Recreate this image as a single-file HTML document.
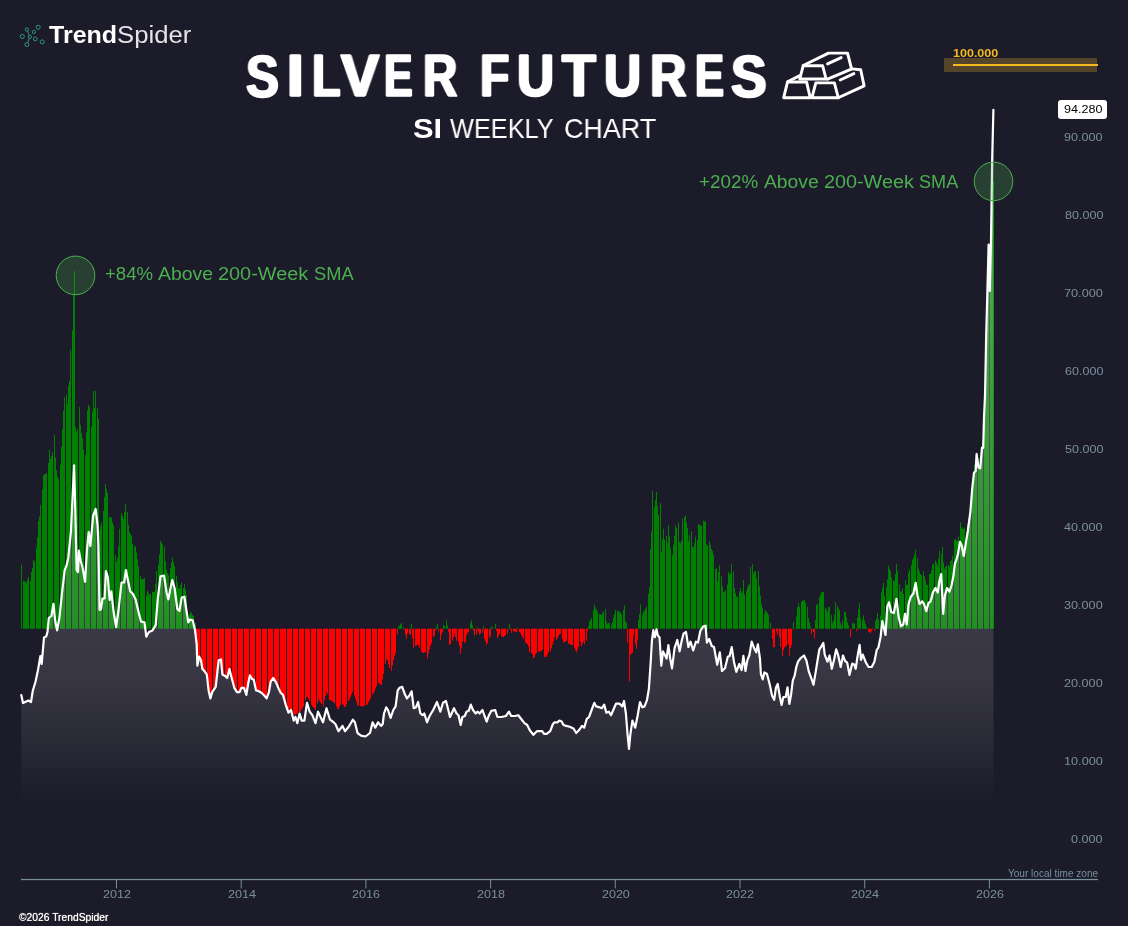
<!DOCTYPE html>
<html><head><meta charset="utf-8"><title>Silver Futures</title>
<style>
html,body{margin:0;padding:0;}
body{width:1128px;height:926px;background:#1c1b29;position:relative;overflow:hidden;font-family:"Liberation Sans",sans-serif;}
.chart{position:absolute;left:0;top:0;}
.logo{position:absolute;left:10px;top:15px;}
.ingot{position:absolute;left:770px;top:40px;}
.price{position:absolute;left:1058px;top:100px;width:49px;height:19px;background:#fff;border-radius:3px;color:#000;font-size:11.5px;line-height:19px;text-align:center;letter-spacing:0.3px;}
</style></head><body>
<svg class="chart" width="1128" height="926" viewBox="0 0 1128 926">
<defs>
<linearGradient id="ag" gradientUnits="userSpaceOnUse" x1="0" y1="109" x2="0" y2="810">
<stop offset="0.0000" stop-color="#fff" stop-opacity="0.38"/><stop offset="0.7404" stop-color="#fff" stop-opacity="0.132"/><stop offset="0.8146" stop-color="#fff" stop-opacity="0.118"/><stop offset="0.8716" stop-color="#fff" stop-opacity="0.085"/><stop offset="0.9287" stop-color="#fff" stop-opacity="0.045"/><stop offset="0.9786" stop-color="#fff" stop-opacity="0.008"/><stop offset="1.0000" stop-color="#fff" stop-opacity="0"/>
</linearGradient>
</defs>
<path d="M21 628.8V564.8h1V628.8zM23 628.8V580.8h1V628.8zM24 628.8V581.2h1V628.8zM25 628.8V581.8h1V628.8zM26 628.8V582.4h1V628.8zM27 628.8V579.8h1V628.8zM28 628.8V577.0h1V628.8zM30 628.8V581.3h1V628.8zM31 628.8V572.0h1V628.8zM32 628.8V568.0h1V628.8zM33 628.8V560.0h1V628.8zM34 628.8V561.8h1V628.8zM36 628.8V547.5h1V628.8zM37 628.8V536.9h1V628.8zM38 628.8V521.0h1V628.8zM39 628.8V516.6h1V628.8zM40 628.8V505.0h1V628.8zM42 628.8V489.1h1V628.8zM43 628.8V475.0h1V628.8zM44 628.8V474.6h1V628.8zM45 628.8V473.8h1V628.8zM46 628.8V473.0h1V628.8zM48 628.8V463.0h1V628.8zM49 628.8V449.4h1V628.8zM50 628.8V459.0h1V628.8zM51 628.8V456.2h1V628.8zM52 628.8V452.2h1V628.8zM54 628.8V435.0h1V628.8zM55 628.8V457.7h1V628.8zM56 628.8V469.9h1V628.8zM57 628.8V476.4h1V628.8zM58 628.8V479.1h1V628.8zM60 628.8V464.5h1V628.8zM61 628.8V446.9h1V628.8zM62 628.8V429.2h1V628.8zM63 628.8V410.8h1V628.8zM64 628.8V397.4h1V628.8zM66 628.8V394.4h1V628.8zM67 628.8V404.2h1V628.8zM68 628.8V386.0h1V628.8zM69 628.8V381.0h1V628.8zM70 628.8V350.0h1V628.8zM72 628.8V330.6h1V628.8zM73 628.8V295.0h1V628.8zM74 628.8V271.0h1V628.8zM75 628.8V427.0h1V628.8zM76 628.8V431.5h1V628.8zM77 628.8V429.3h1V628.8zM79 628.8V407.0h1V628.8zM80 628.8V424.8h1V628.8zM81 628.8V432.7h1V628.8zM82 628.8V438.0h1V628.8zM83 628.8V449.8h1V628.8zM85 628.8V455.3h1V628.8zM86 628.8V432.3h1V628.8zM87 628.8V410.5h1V628.8zM88 628.8V405.0h1V628.8zM89 628.8V406.7h1V628.8zM91 628.8V426.7h1V628.8zM92 628.8V411.6h1V628.8zM93 628.8V391.0h1V628.8zM94 628.8V408.0h1V628.8zM95 628.8V391.0h1V628.8zM97 628.8V408.0h1V628.8zM98 628.8V419.0h1V628.8zM99 628.8V530.2h1V628.8zM100 628.8V526.4h1V628.8zM101 628.8V522.5h1V628.8zM103 628.8V510.7h1V628.8zM104 628.8V497.3h1V628.8zM105 628.8V484.0h1V628.8zM106 628.8V489.0h1V628.8zM107 628.8V493.0h1V628.8zM109 628.8V516.8h1V628.8zM110 628.8V517.3h1V628.8zM111 628.8V517.6h1V628.8zM112 628.8V522.2h1V628.8zM113 628.8V525.0h1V628.8zM115 628.8V555.0h1V628.8zM116 628.8V561.7h1V628.8zM117 628.8V557.7h1V628.8zM118 628.8V546.0h1V628.8zM119 628.8V528.8h1V628.8zM121 628.8V513.0h1V628.8zM122 628.8V515.9h1V628.8zM123 628.8V518.7h1V628.8zM124 628.8V511.7h1V628.8zM125 628.8V503.5h1V628.8zM127 628.8V512.1h1V628.8zM128 628.8V524.7h1V628.8zM129 628.8V532.0h1V628.8zM130 628.8V534.3h1V628.8zM131 628.8V535.8h1V628.8zM132 628.8V543.7h1V628.8zM134 628.8V546.8h1V628.8zM135 628.8V546.0h1V628.8zM136 628.8V552.8h1V628.8zM137 628.8V559.5h1V628.8zM138 628.8V566.5h1V628.8zM140 628.8V576.0h1V628.8zM141 628.8V579.3h1V628.8zM142 628.8V579.5h1V628.8zM143 628.8V578.7h1V628.8zM144 628.8V578.0h1V628.8zM146 628.8V595.7h1V628.8zM147 628.8V590.5h1V628.8zM148 628.8V592.5h1V628.8zM149 628.8V594.4h1V628.8zM150 628.8V594.2h1V628.8zM152 628.8V592.0h1V628.8zM153 628.8V591.8h1V628.8zM154 628.8V591.4h1V628.8zM155 628.8V584.1h1V628.8zM156 628.8V570.7h1V628.8zM158 628.8V564.8h1V628.8zM159 628.8V554.2h1V628.8zM160 628.8V541.0h1V628.8zM161 628.8V542.7h1V628.8zM162 628.8V544.5h1V628.8zM164 628.8V546.6h1V628.8zM165 628.8V561.0h1V628.8zM166 628.8V570.0h1V628.8zM167 628.8V572.9h1V628.8zM168 628.8V575.2h1V628.8zM170 628.8V568.0h1V628.8zM171 628.8V562.5h1V628.8zM172 628.8V557.7h1V628.8zM173 628.8V562.3h1V628.8zM174 628.8V566.2h1V628.8zM176 628.8V576.0h1V628.8zM177 628.8V582.3h1V628.8zM178 628.8V588.1h1V628.8zM179 628.8V589.1h1V628.8zM180 628.8V585.2h1V628.8zM181 628.8V582.5h1V628.8zM183 628.8V588.0h1V628.8zM184 628.8V584.0h1V628.8zM185 628.8V589.5h1V628.8zM186 628.8V595.0h1V628.8zM187 628.8V611.6h1V628.8zM189 628.8V614.4h1V628.8zM190 628.8V611.8h1V628.8zM191 628.8V613.2h1V628.8zM192 628.8V614.8h1V628.8zM193 628.8V616.0h1V628.8zM195 628.8V623.0h1V628.8zM398 628.8V626.6h1V628.8zM399 628.8V625.8h1V628.8zM400 628.8V624.3h1V628.8zM401 628.8V623.0h1V628.8zM403 628.8V627.5h1V628.8zM411 628.8V624.0h1V628.8zM436 628.8V626.9h1V628.8zM437 628.8V624.0h1V628.8zM443 628.8V624.8h1V628.8zM444 628.8V626.3h1V628.8zM446 628.8V620.4h1V628.8zM447 628.8V625.2h1V628.8zM470 628.8V622.9h1V628.8zM471 628.8V619.9h1V628.8zM472 628.8V625.3h1V628.8zM477 628.8V627.5h1V628.8zM483 628.8V626.2h1V628.8zM491 628.8V626.6h1V628.8zM492 628.8V627.7h1V628.8zM495 628.8V624.0h1V628.8zM508 628.8V628.2h1V628.8zM509 628.8V624.0h1V628.8zM517 628.8V627.5h1V628.8zM588 628.8V626.2h1V628.8zM589 628.8V621.3h1V628.8zM590 628.8V620.0h1V628.8zM591 628.8V617.7h1V628.8zM593 628.8V610.3h1V628.8zM594 628.8V604.4h1V628.8zM595 628.8V607.5h1V628.8zM596 628.8V609.6h1V628.8zM597 628.8V611.5h1V628.8zM599 628.8V614.0h1V628.8zM600 628.8V614.5h1V628.8zM601 628.8V615.0h1V628.8zM602 628.8V613.0h1V628.8zM603 628.8V611.5h1V628.8zM605 628.8V608.9h1V628.8zM606 628.8V621.5h1V628.8zM607 628.8V623.7h1V628.8zM608 628.8V623.0h1V628.8zM609 628.8V623.0h1V628.8zM611 628.8V624.8h1V628.8zM612 628.8V622.0h1V628.8zM613 628.8V617.8h1V628.8zM614 628.8V613.4h1V628.8zM615 628.8V609.8h1V628.8zM617 628.8V610.5h1V628.8zM618 628.8V611.0h1V628.8zM619 628.8V611.7h1V628.8zM620 628.8V612.4h1V628.8zM621 628.8V614.4h1V628.8zM623 628.8V609.9h1V628.8zM624 628.8V605.3h1V628.8zM625 628.8V621.3h1V628.8zM626 628.8V623.0h1V628.8zM638 628.8V619.8h1V628.8zM639 628.8V614.0h1V628.8zM640 628.8V604.2h1V628.8zM642 628.8V614.8h1V628.8zM643 628.8V612.0h1V628.8zM644 628.8V610.5h1V628.8zM645 628.8V608.7h1V628.8zM646 628.8V606.5h1V628.8zM648 628.8V593.8h1V628.8zM649 628.8V587.3h1V628.8zM650 628.8V549.0h1V628.8zM651 628.8V531.4h1V628.8zM652 628.8V491.0h1V628.8zM654 628.8V506.8h1V628.8zM655 628.8V499.7h1V628.8zM656 628.8V492.0h1V628.8zM657 628.8V505.7h1V628.8zM658 628.8V515.1h1V628.8zM660 628.8V503.0h1V628.8zM661 628.8V551.4h1V628.8zM662 628.8V538.9h1V628.8zM663 628.8V528.8h1V628.8zM664 628.8V539.4h1V628.8zM666 628.8V535.9h1V628.8zM667 628.8V543.0h1V628.8zM668 628.8V525.2h1V628.8zM669 628.8V536.6h1V628.8zM670 628.8V548.6h1V628.8zM672 628.8V555.0h1V628.8zM673 628.8V544.7h1V628.8zM674 628.8V535.4h1V628.8zM675 628.8V525.2h1V628.8zM676 628.8V528.0h1V628.8zM678 628.8V522.6h1V628.8zM679 628.8V542.0h1V628.8zM680 628.8V542.9h1V628.8zM681 628.8V540.2h1V628.8zM682 628.8V519.0h1V628.8zM684 628.8V517.3h1V628.8zM685 628.8V515.5h1V628.8zM686 628.8V522.3h1V628.8zM687 628.8V527.9h1V628.8zM688 628.8V541.2h1V628.8zM689 628.8V535.0h1V628.8zM691 628.8V531.4h1V628.8zM692 628.8V546.5h1V628.8zM693 628.8V547.2h1V628.8zM694 628.8V543.2h1V628.8zM695 628.8V536.7h1V628.8zM697 628.8V540.1h1V628.8zM698 628.8V524.3h1V628.8zM699 628.8V524.3h1V628.8zM700 628.8V525.6h1V628.8zM701 628.8V526.0h1V628.8zM703 628.8V520.8h1V628.8zM704 628.8V521.2h1V628.8zM705 628.8V521.7h1V628.8zM706 628.8V544.4h1V628.8zM707 628.8V545.6h1V628.8zM709 628.8V541.2h1V628.8zM710 628.8V544.9h1V628.8zM711 628.8V548.9h1V628.8zM712 628.8V551.0h1V628.8zM713 628.8V554.5h1V628.8zM715 628.8V568.7h1V628.8zM716 628.8V568.7h1V628.8zM717 628.8V581.8h1V628.8zM718 628.8V571.9h1V628.8zM719 628.8V565.0h1V628.8zM721 628.8V576.6h1V628.8zM722 628.8V586.4h1V628.8zM723 628.8V592.4h1V628.8zM724 628.8V591.7h1V628.8zM725 628.8V590.0h1V628.8zM727 628.8V584.6h1V628.8zM728 628.8V572.2h1V628.8zM729 628.8V574.4h1V628.8zM730 628.8V573.5h1V628.8zM731 628.8V564.2h1V628.8zM733 628.8V571.3h1V628.8zM734 628.8V587.7h1V628.8zM735 628.8V593.0h1V628.8zM736 628.8V596.9h1V628.8zM737 628.8V596.4h1V628.8zM739 628.8V591.4h1V628.8zM740 628.8V588.0h1V628.8zM741 628.8V593.3h1V628.8zM742 628.8V591.3h1V628.8zM743 628.8V580.0h1V628.8zM744 628.8V594.7h1V628.8zM746 628.8V590.8h1V628.8zM747 628.8V587.5h1V628.8zM748 628.8V584.6h1V628.8zM749 628.8V584.6h1V628.8zM750 628.8V566.9h1V628.8zM752 628.8V564.2h1V628.8zM753 628.8V574.1h1V628.8zM754 628.8V571.3h1V628.8zM755 628.8V571.3h1V628.8zM756 628.8V578.0h1V628.8zM758 628.8V571.3h1V628.8zM759 628.8V586.4h1V628.8zM760 628.8V595.5h1V628.8zM761 628.8V603.7h1V628.8zM762 628.8V607.7h1V628.8zM764 628.8V613.8h1V628.8zM765 628.8V610.3h1V628.8zM766 628.8V611.6h1V628.8zM767 628.8V613.0h1V628.8zM768 628.8V615.1h1V628.8zM770 628.8V622.7h1V628.8zM778 628.8V628.0h1V628.8zM793 628.8V621.8h1V628.8zM795 628.8V628.0h1V628.8zM796 628.8V616.5h1V628.8zM797 628.8V607.3h1V628.8zM798 628.8V603.2h1V628.8zM799 628.8V607.0h1V628.8zM801 628.8V601.4h1V628.8zM802 628.8V600.8h1V628.8zM803 628.8V600.2h1V628.8zM804 628.8V599.6h1V628.8zM805 628.8V602.7h1V628.8zM807 628.8V606.7h1V628.8zM808 628.8V618.3h1V628.8zM809 628.8V622.4h1V628.8zM810 628.8V626.4h1V628.8zM815 628.8V620.0h1V628.8zM816 628.8V605.0h1V628.8zM817 628.8V603.5h1V628.8zM819 628.8V597.6h1V628.8zM820 628.8V594.7h1V628.8zM821 628.8V592.5h1V628.8zM822 628.8V592.0h1V628.8zM823 628.8V591.7h1V628.8zM825 628.8V607.6h1V628.8zM826 628.8V609.8h1V628.8zM827 628.8V611.7h1V628.8zM828 628.8V606.7h1V628.8zM829 628.8V606.7h1V628.8zM831 628.8V615.0h1V628.8zM832 628.8V622.9h1V628.8zM833 628.8V620.0h1V628.8zM834 628.8V614.8h1V628.8zM835 628.8V602.3h1V628.8zM837 628.8V605.9h1V628.8zM838 628.8V608.3h1V628.8zM839 628.8V610.3h1V628.8zM840 628.8V622.5h1V628.8zM841 628.8V625.5h1V628.8zM842 628.8V620.4h1V628.8zM844 628.8V611.8h1V628.8zM845 628.8V612.0h1V628.8zM846 628.8V617.5h1V628.8zM847 628.8V622.5h1V628.8zM848 628.8V625.4h1V628.8zM852 628.8V622.7h1V628.8zM853 628.8V623.4h1V628.8zM854 628.8V623.6h1V628.8zM857 628.8V617.4h1V628.8zM858 628.8V609.5h1V628.8zM859 628.8V603.2h1V628.8zM860 628.8V617.6h1V628.8zM862 628.8V619.7h1V628.8zM863 628.8V615.6h1V628.8zM864 628.8V620.6h1V628.8zM865 628.8V624.0h1V628.8zM866 628.8V627.0h1V628.8zM872 628.8V628.0h1V628.8zM875 628.8V621.0h1V628.8zM876 628.8V618.5h1V628.8zM877 628.8V613.0h1V628.8zM878 628.8V619.2h1V628.8zM880 628.8V615.6h1V628.8zM881 628.8V592.6h1V628.8zM882 628.8V587.7h1V628.8zM883 628.8V582.8h1V628.8zM884 628.8V596.0h1V628.8zM886 628.8V587.2h1V628.8zM887 628.8V579.5h1V628.8zM888 628.8V565.6h1V628.8zM889 628.8V568.9h1V628.8zM890 628.8V571.3h1V628.8zM891 628.8V577.4h1V628.8zM893 628.8V580.5h1V628.8zM894 628.8V580.9h1V628.8zM895 628.8V573.9h1V628.8zM896 628.8V563.8h1V628.8zM897 628.8V571.1h1V628.8zM899 628.8V584.6h1V628.8zM900 628.8V591.0h1V628.8zM901 628.8V591.8h1V628.8zM902 628.8V588.0h1V628.8zM903 628.8V594.1h1V628.8zM905 628.8V580.0h1V628.8zM906 628.8V584.9h1V628.8zM907 628.8V584.8h1V628.8zM908 628.8V573.0h1V628.8zM909 628.8V570.0h1V628.8zM911 628.8V565.0h1V628.8zM912 628.8V559.8h1V628.8zM913 628.8V557.7h1V628.8zM914 628.8V554.4h1V628.8zM915 628.8V549.8h1V628.8zM917 628.8V558.0h1V628.8zM918 628.8V568.6h1V628.8zM919 628.8V571.7h1V628.8zM920 628.8V574.0h1V628.8zM921 628.8V575.2h1V628.8zM923 628.8V571.3h1V628.8zM924 628.8V576.2h1V628.8zM925 628.8V580.2h1V628.8zM926 628.8V584.6h1V628.8zM927 628.8V585.1h1V628.8zM929 628.8V574.0h1V628.8zM930 628.8V574.0h1V628.8zM931 628.8V570.5h1V628.8zM932 628.8V564.8h1V628.8zM933 628.8V563.3h1V628.8zM935 628.8V560.6h1V628.8zM936 628.8V562.4h1V628.8zM937 628.8V565.4h1V628.8zM938 628.8V558.8h1V628.8zM939 628.8V550.7h1V628.8zM941 628.8V554.1h1V628.8zM942 628.8V547.0h1V628.8zM943 628.8V562.5h1V628.8zM944 628.8V568.8h1V628.8zM945 628.8V566.8h1V628.8zM946 628.8V565.4h1V628.8zM948 628.8V565.0h1V628.8zM949 628.8V566.4h1V628.8zM950 628.8V561.0h1V628.8zM951 628.8V559.7h1V628.8zM952 628.8V556.0h1V628.8zM954 628.8V539.7h1V628.8zM955 628.8V539.0h1V628.8zM956 628.8V540.5h1V628.8zM957 628.8V540.2h1V628.8zM958 628.8V536.6h1V628.8zM960 628.8V522.3h1V628.8zM961 628.8V527.3h1V628.8zM962 628.8V528.8h1V628.8zM963 628.8V528.7h1V628.8zM964 628.8V527.7h1V628.8zM966 628.8V531.8h1V628.8zM967 628.8V524.0h1V628.8zM968 628.8V518.1h1V628.8zM969 628.8V509.6h1V628.8zM970 628.8V501.1h1V628.8zM972 628.8V482.2h1V628.8zM973 628.8V473.0h1V628.8zM974 628.8V464.3h1V628.8zM975 628.8V457.6h1V628.8zM976 628.8V452.3h1V628.8zM978 628.8V458.5h1V628.8zM979 628.8V464.9h1V628.8zM980 628.8V465.2h1V628.8zM981 628.8V446.0h1V628.8zM982 628.8V440.3h1V628.8zM984 628.8V400.0h1V628.8zM985 628.8V350.0h1V628.8zM986 628.8V333.3h1V628.8zM987 628.8V300.0h1V628.8zM988 628.8V270.0h1V628.8zM990 628.8V236.0h1V628.8zM991 628.8V227.3h1V628.8zM992 628.8V206.6h1V628.8zM993 628.8V181.3h1V628.8z" fill="#008000"/>
<path d="M196 628.8V642.1h1V628.8zM197 628.8V663.6h1V628.8zM198 628.8V660.7h1V628.8zM199 628.8V656.8h1V628.8zM201 628.8V665.4h1V628.8zM202 628.8V668.6h1V628.8zM203 628.8V669.9h1V628.8zM204 628.8V671.2h1V628.8zM205 628.8V672.0h1V628.8zM207 628.8V683.7h1V628.8zM208 628.8V689.0h1V628.8zM209 628.8V694.8h1V628.8zM210 628.8V697.5h1V628.8zM211 628.8V694.1h1V628.8zM213 628.8V690.0h1V628.8zM214 628.8V688.2h1V628.8zM215 628.8V687.3h1V628.8zM216 628.8V681.1h1V628.8zM217 628.8V670.4h1V628.8zM219 628.8V659.6h1V628.8zM220 628.8V659.1h1V628.8zM221 628.8V666.4h1V628.8zM222 628.8V674.3h1V628.8zM223 628.8V674.6h1V628.8zM225 628.8V676.1h1V628.8zM226 628.8V676.8h1V628.8zM227 628.8V677.4h1V628.8zM228 628.8V673.0h1V628.8zM229 628.8V668.9h1V628.8zM230 628.8V673.6h1V628.8zM232 628.8V680.5h1V628.8zM233 628.8V685.0h1V628.8zM234 628.8V688.3h1V628.8zM235 628.8V689.3h1V628.8zM236 628.8V691.2h1V628.8zM238 628.8V691.7h1V628.8zM239 628.8V691.7h1V628.8zM240 628.8V690.0h1V628.8zM241 628.8V687.3h1V628.8zM242 628.8V687.3h1V628.8zM244 628.8V688.8h1V628.8zM245 628.8V692.3h1V628.8zM246 628.8V694.1h1V628.8zM247 628.8V687.3h1V628.8zM248 628.8V683.4h1V628.8zM250 628.8V675.9h1V628.8zM251 628.8V677.9h1V628.8zM252 628.8V678.8h1V628.8zM253 628.8V679.2h1V628.8zM254 628.8V683.6h1V628.8zM256 628.8V690.0h1V628.8zM257 628.8V690.4h1V628.8zM258 628.8V690.8h1V628.8zM259 628.8V691.1h1V628.8zM260 628.8V691.8h1V628.8zM262 628.8V693.2h1V628.8zM263 628.8V694.4h1V628.8zM264 628.8V695.7h1V628.8zM265 628.8V696.5h1V628.8zM266 628.8V697.6h1V628.8zM268 628.8V692.8h1V628.8zM269 628.8V690.5h1V628.8zM270 628.8V683.5h1V628.8zM271 628.8V680.0h1V628.8zM272 628.8V679.2h1V628.8zM274 628.8V679.5h1V628.8zM275 628.8V681.4h1V628.8zM276 628.8V684.0h1V628.8zM277 628.8V685.4h1V628.8zM278 628.8V688.2h1V628.8zM280 628.8V691.9h1V628.8zM281 628.8V693.3h1V628.8zM282 628.8V694.3h1V628.8zM283 628.8V696.2h1V628.8zM284 628.8V700.5h1V628.8zM285 628.8V704.7h1V628.8zM287 628.8V710.0h1V628.8zM288 628.8V711.8h1V628.8zM289 628.8V708.3h1V628.8zM290 628.8V709.6h1V628.8zM291 628.8V710.9h1V628.8zM293 628.8V713.5h1V628.8zM294 628.8V715.0h1V628.8zM295 628.8V714.5h1V628.8zM296 628.8V713.8h1V628.8zM297 628.8V713.2h1V628.8zM299 628.8V712.0h1V628.8zM300 628.8V711.7h1V628.8zM301 628.8V709.4h1V628.8zM302 628.8V707.9h1V628.8zM303 628.8V706.4h1V628.8zM305 628.8V700.3h1V628.8zM306 628.8V697.2h1V628.8zM307 628.8V696.7h1V628.8zM308 628.8V698.7h1V628.8zM309 628.8V700.7h1V628.8zM311 628.8V704.8h1V628.8zM312 628.8V706.6h1V628.8zM313 628.8V707.6h1V628.8zM314 628.8V708.6h1V628.8zM315 628.8V710.0h1V628.8zM317 628.8V703.4h1V628.8zM318 628.8V699.3h1V628.8zM319 628.8V700.9h1V628.8zM320 628.8V702.5h1V628.8zM321 628.8V704.0h1V628.8zM323 628.8V706.4h1V628.8zM324 628.8V700.2h1V628.8zM325 628.8V696.1h1V628.8zM326 628.8V692.0h1V628.8zM327 628.8V694.3h1V628.8zM329 628.8V700.0h1V628.8zM330 628.8V700.3h1V628.8zM331 628.8V700.8h1V628.8zM332 628.8V701.4h1V628.8zM333 628.8V702.0h1V628.8zM334 628.8V703.4h1V628.8zM336 628.8V706.6h1V628.8zM337 628.8V709.0h1V628.8zM338 628.8V709.0h1V628.8zM339 628.8V706.4h1V628.8zM340 628.8V704.7h1V628.8zM342 628.8V703.9h1V628.8zM343 628.8V705.1h1V628.8zM344 628.8V707.0h1V628.8zM345 628.8V707.0h1V628.8zM346 628.8V704.5h1V628.8zM348 628.8V701.1h1V628.8zM349 628.8V699.5h1V628.8zM350 628.8V696.9h1V628.8zM351 628.8V694.3h1V628.8zM352 628.8V691.7h1V628.8zM354 628.8V695.4h1V628.8zM355 628.8V698.8h1V628.8zM356 628.8V702.1h1V628.8zM357 628.8V705.5h1V628.8zM358 628.8V705.7h1V628.8zM360 628.8V706.0h1V628.8zM361 628.8V706.2h1V628.8zM362 628.8V706.4h1V628.8zM363 628.8V706.2h1V628.8zM364 628.8V705.7h1V628.8zM366 628.8V704.9h1V628.8zM367 628.8V704.6h1V628.8zM368 628.8V702.2h1V628.8zM369 628.8V700.3h1V628.8zM370 628.8V698.3h1V628.8zM372 628.8V694.7h1V628.8zM373 628.8V692.9h1V628.8zM374 628.8V691.3h1V628.8zM375 628.8V688.6h1V628.8zM376 628.8V686.1h1V628.8zM378 628.8V682.8h1V628.8zM379 628.8V683.5h1V628.8zM380 628.8V684.3h1V628.8zM381 628.8V685.0h1V628.8zM382 628.8V679.4h1V628.8zM383 628.8V673.8h1V628.8zM385 628.8V663.8h1V628.8zM386 628.8V659.0h1V628.8zM387 628.8V660.2h1V628.8zM388 628.8V664.0h1V628.8zM389 628.8V668.0h1V628.8zM391 628.8V671.0h1V628.8zM392 628.8V665.6h1V628.8zM393 628.8V660.1h1V628.8zM394 628.8V656.2h1V628.8zM395 628.8V653.0h1V628.8zM397 628.8V634.6h1V628.8zM404 628.8V630.0h1V628.8zM405 628.8V634.5h1V628.8zM406 628.8V639.0h1V628.8zM407 628.8V633.2h1V628.8zM409 628.8V634.6h1V628.8zM410 628.8V634.6h1V628.8zM412 628.8V638.6h1V628.8zM413 628.8V647.9h1V628.8zM415 628.8V646.0h1V628.8zM416 628.8V645.3h1V628.8zM417 628.8V644.6h1V628.8zM418 628.8V645.6h1V628.8zM419 628.8V648.1h1V628.8zM421 628.8V651.8h1V628.8zM422 628.8V652.4h1V628.8zM423 628.8V653.0h1V628.8zM424 628.8V652.0h1V628.8zM425 628.8V652.4h1V628.8zM427 628.8V658.5h1V628.8zM428 628.8V653.4h1V628.8zM429 628.8V649.2h1V628.8zM430 628.8V646.1h1V628.8zM431 628.8V643.2h1V628.8zM433 628.8V637.1h1V628.8zM434 628.8V635.5h1V628.8zM435 628.8V630.4h1V628.8zM438 628.8V631.0h1V628.8zM440 628.8V640.0h1V628.8zM441 628.8V634.4h1V628.8zM442 628.8V632.0h1V628.8zM448 628.8V631.7h1V628.8zM449 628.8V645.0h1V628.8zM450 628.8V643.9h1V628.8zM452 628.8V640.4h1V628.8zM453 628.8V637.2h1V628.8zM454 628.8V633.7h1V628.8zM455 628.8V637.1h1V628.8zM456 628.8V640.8h1V628.8zM458 628.8V641.7h1V628.8zM459 628.8V645.8h1V628.8zM460 628.8V654.0h1V628.8zM461 628.8V648.2h1V628.8zM462 628.8V641.7h1V628.8zM464 628.8V642.6h1V628.8zM465 628.8V642.6h1V628.8zM466 628.8V635.6h1V628.8zM467 628.8V633.1h1V628.8zM468 628.8V632.2h1V628.8zM473 628.8V630.9h1V628.8zM474 628.8V635.5h1V628.8zM476 628.8V634.6h1V628.8zM478 628.8V631.4h1V628.8zM479 628.8V634.6h1V628.8zM480 628.8V633.8h1V628.8zM482 628.8V632.8h1V628.8zM484 628.8V639.0h1V628.8zM485 628.8V641.1h1V628.8zM486 628.8V645.0h1V628.8zM487 628.8V643.0h1V628.8zM489 628.8V637.8h1V628.8zM490 628.8V636.3h1V628.8zM493 628.8V629.0h1V628.8zM496 628.8V631.0h1V628.8zM497 628.8V638.0h1V628.8zM498 628.8V635.9h1V628.8zM499 628.8V634.1h1V628.8zM501 628.8V636.3h1V628.8zM502 628.8V636.8h1V628.8zM503 628.8V637.2h1V628.8zM504 628.8V636.0h1V628.8zM505 628.8V635.5h1V628.8zM507 628.8V633.7h1V628.8zM510 628.8V629.4h1V628.8zM511 628.8V632.8h1V628.8zM513 628.8V631.3h1V628.8zM514 628.8V631.3h1V628.8zM515 628.8V631.7h1V628.8zM516 628.8V632.0h1V628.8zM519 628.8V632.0h1V628.8zM520 628.8V633.0h1V628.8zM521 628.8V635.5h1V628.8zM522 628.8V636.9h1V628.8zM523 628.8V639.0h1V628.8zM525 628.8V642.6h1V628.8zM526 628.8V643.2h1V628.8zM527 628.8V644.3h1V628.8zM528 628.8V646.5h1V628.8zM529 628.8V652.3h1V628.8zM531 628.8V653.0h1V628.8zM532 628.8V654.4h1V628.8zM533 628.8V658.5h1V628.8zM534 628.8V656.9h1V628.8zM535 628.8V654.3h1V628.8zM536 628.8V653.0h1V628.8zM538 628.8V651.4h1V628.8zM539 628.8V651.4h1V628.8zM540 628.8V651.4h1V628.8zM541 628.8V650.6h1V628.8zM542 628.8V649.8h1V628.8zM544 628.8V656.7h1V628.8zM545 628.8V656.7h1V628.8zM546 628.8V656.7h1V628.8zM547 628.8V654.6h1V628.8zM548 628.8V652.3h1V628.8zM550 628.8V651.4h1V628.8zM551 628.8V648.3h1V628.8zM552 628.8V644.8h1V628.8zM553 628.8V641.2h1V628.8zM554 628.8V637.6h1V628.8zM556 628.8V640.0h1V628.8zM557 628.8V638.3h1V628.8zM558 628.8V635.8h1V628.8zM559 628.8V634.6h1V628.8zM560 628.8V633.9h1V628.8zM562 628.8V639.2h1V628.8zM563 628.8V642.6h1V628.8zM564 628.8V641.9h1V628.8zM565 628.8V641.3h1V628.8zM566 628.8V641.2h1V628.8zM568 628.8V643.6h1V628.8zM569 628.8V644.1h1V628.8zM570 628.8V644.5h1V628.8zM571 628.8V645.0h1V628.8zM572 628.8V645.0h1V628.8zM574 628.8V647.7h1V628.8zM575 628.8V650.4h1V628.8zM576 628.8V652.3h1V628.8zM577 628.8V649.3h1V628.8zM578 628.8V647.0h1V628.8zM580 628.8V641.7h1V628.8zM581 628.8V646.0h1V628.8zM582 628.8V643.7h1V628.8zM583 628.8V641.5h1V628.8zM584 628.8V644.3h1V628.8zM586 628.8V640.8h1V628.8zM587 628.8V631.0h1V628.8zM627 628.8V642.6h1V628.8zM629 628.8V681.6h1V628.8zM630 628.8V655.0h1V628.8zM631 628.8V653.6h1V628.8zM632 628.8V653.0h1V628.8zM633 628.8V635.5h1V628.8zM635 628.8V644.6h1V628.8zM636 628.8V648.8h1V628.8zM637 628.8V640.6h1V628.8zM772 628.8V639.1h1V628.8zM773 628.8V647.5h1V628.8zM774 628.8V646.9h1V628.8zM776 628.8V631.6h1V628.8zM777 628.8V635.0h1V628.8zM779 628.8V637.3h1V628.8zM780 628.8V647.1h1V628.8zM782 628.8V656.4h1V628.8zM783 628.8V650.0h1V628.8zM784 628.8V647.5h1V628.8zM785 628.8V646.3h1V628.8zM786 628.8V645.7h1V628.8zM788 628.8V643.7h1V628.8zM789 628.8V655.5h1V628.8zM790 628.8V648.0h1V628.8zM791 628.8V644.9h1V628.8zM792 628.8V629.8h1V628.8zM811 628.8V634.2h1V628.8zM813 628.8V632.0h1V628.8zM814 628.8V638.7h1V628.8zM850 628.8V636.9h1V628.8zM856 628.8V630.7h1V628.8zM868 628.8V631.6h1V628.8zM869 628.8V632.3h1V628.8zM870 628.8V633.3h1V628.8zM871 628.8V631.2h1V628.8zM874 628.8V630.7h1V628.8z" fill="#ff0000"/>
<path d="M21.3,695.0 L21.3,695.0 23.0,703.0 28.4,700.5 31.0,702.0 32.8,690.7 35.5,681.8 38.1,669.4 40.4,656.0 41.7,664.0 44.0,637.5 46.1,636.6 47.5,632.0 48.8,618.0 51.4,616.0 53.5,603.8 55.0,619.8 57.1,630.4 59.4,618.0 62.0,593.0 64.7,570.0 66.5,565.7 68.3,557.7 70.9,532.0 72.5,498.0 74.1,465.4 75.4,514.0 76.2,549.6 76.6,570.0 78.0,572.0 78.9,550.6 80.7,561.0 82.4,566.6 85.1,581.7 86.9,550.6 88.7,532.0 90.4,546.0 93.1,516.0 95.7,509.0 97.5,524.8 98.4,545.0 98.9,575.5 99.6,610.0 101.0,609.0 102.5,598.5 104.6,598.5 105.9,571.0 107.8,577.0 109.6,600.0 111.3,591.4 113.5,611.0 116.1,627.0 118.4,611.0 121.5,582.5 124.1,582.5 125.9,570.0 128.0,580.8 130.3,591.4 133.0,594.0 135.6,599.4 138.3,611.0 141.0,621.6 144.5,622.4 146.3,636.6 148.9,632.0 152.5,630.4 155.7,625.0 157.8,598.5 160.5,576.3 164.0,575.5 166.7,593.0 168.4,599.4 170.2,589.6 172.3,580.0 174.6,588.0 177.3,609.0 179.4,611.0 181.7,597.6 184.4,596.7 186.2,609.0 188.3,622.4 190.0,619.5 192.7,620.4 195.0,630.0 196.7,644.3 197.4,665.6 199.2,656.7 201.0,660.3 202.4,669.0 205.0,671.8 206.8,674.5 208.6,690.4 210.4,698.4 212.2,692.2 215.7,686.9 217.5,670.9 218.7,660.3 221.0,659.4 222.4,674.5 225.5,676.2 227.2,678.0 229.4,669.0 231.7,678.0 234.3,687.8 237.0,692.2 239.6,692.2 241.4,687.8 244.0,687.8 246.4,694.9 248.2,683.3 249.9,675.4 252.0,678.9 253.8,679.8 256.0,690.4 259.0,691.3 261.8,693.0 264.5,695.7 266.6,698.4 268.9,692.2 270.7,681.6 273.3,678.0 276.0,682.4 278.7,688.7 280.8,693.0 283.0,694.9 285.7,704.6 288.4,712.6 291.0,710.0 293.7,720.6 295.5,717.0 297.3,723.2 299.6,713.5 301.7,720.6 304.4,720.6 307.0,702.8 309.7,711.7 312.3,715.2 315.5,723.2 318.0,711.7 323.0,722.3 326.5,708.2 330.0,719.7 332.7,721.5 335.4,724.0 338.6,731.2 342.5,725.9 345.0,731.2 348.7,726.8 352.8,719.7 354.9,722.3 357.5,733.0 361.0,735.6 365.5,736.5 370.0,733.0 372.6,722.3 375.3,727.7 378.0,722.3 381.0,725.9 382.7,724.0 384.0,713.5 386.2,707.3 388.0,710.0 390.6,717.9 393.3,710.0 395.6,706.4 397.7,690.4 399.5,687.8 402.2,686.9 404.8,694.0 407.0,698.4 409.3,695.7 411.6,691.3 413.7,708.2 416.0,707.3 418.1,702.0 420.4,713.5 422.6,715.2 424.3,713.5 427.0,722.3 429.6,716.0 433.2,710.0 437.0,702.0 440.3,711.7 443.0,702.8 446.0,701.0 448.3,710.0 450.0,717.0 454.0,708.2 456.6,713.5 458.5,715.2 460.7,725.0 462.4,717.0 464.8,716.0 466.5,711.7 468.7,710.8 470.8,704.6 473.0,710.0 475.7,713.5 477.5,711.7 479.6,713.5 482.5,710.0 484.6,716.0 486.7,721.5 489.0,715.2 491.3,710.8 495.2,710.0 497.4,717.0 501.5,717.0 505.9,716.0 509.0,711.7 511.2,716.0 514.8,716.0 518.3,715.2 521.8,719.7 524.5,723.2 527.2,725.0 529.8,730.3 533.4,734.8 536.9,731.2 542.2,731.2 544.0,733.9 546.7,733.9 550.2,731.2 552.9,724.0 554.6,722.3 557.3,722.3 559.4,720.6 561.7,721.5 563.5,725.0 566.2,725.9 569.7,726.8 573.5,728.5 576.2,733.0 578.9,730.3 582.0,725.9 584.2,727.7 586.8,718.8 589.0,717.0 591.6,710.0 594.3,702.8 596.2,706.4 599.3,707.3 601.9,708.2 604.2,704.6 606.3,712.6 609.0,711.7 611.0,715.2 614.0,708.2 616.0,703.7 619.6,703.7 622.3,706.4 624.0,701.0 625.9,713.5 627.6,734.8 629.0,748.9 630.3,734.8 632.4,720.6 635.2,727.7 637.7,715.2 640.0,702.0 642.3,707.3 644.5,706.4 647.0,700.0 648.9,688.7 650.7,662.0 651.9,640.8 653.3,630.0 654.8,637.2 656.5,629.3 657.8,635.5 659.5,637.2 661.3,665.6 663.0,651.4 664.9,655.0 666.6,658.5 668.4,645.2 670.2,658.5 672.0,668.3 674.6,647.9 677.3,640.0 679.6,651.4 681.7,640.8 683.5,633.7 686.0,632.0 688.4,647.0 690.6,641.7 693.2,650.5 695.9,641.7 698.0,642.6 700.3,631.0 703.0,626.6 705.6,625.7 706.9,642.6 709.2,639.0 711.8,646.0 714.0,647.0 717.2,664.7 719.8,652.3 722.0,671.0 725.0,668.3 727.8,656.7 729.6,655.9 731.7,647.0 734.0,662.0 736.3,671.8 739.3,663.8 741.6,670.0 743.4,655.9 745.5,671.0 747.3,660.3 749.4,655.0 751.7,641.7 754.4,648.8 756.2,652.3 757.9,644.3 760.0,659.0 760.9,674.0 762.7,679.4 764.4,672.3 767.0,674.0 769.8,684.8 772.0,695.4 774.2,699.8 776.0,687.4 777.7,683.9 779.9,697.0 781.6,705.0 783.4,697.0 785.7,697.0 787.5,687.4 789.3,704.0 791.0,695.4 792.8,680.3 794.6,675.9 796.3,667.0 798.0,661.7 800.8,658.0 804.0,655.5 806.5,660.8 808.8,671.5 811.4,678.5 813.5,684.8 815.9,670.6 817.6,660.0 819.4,649.3 821.2,646.6 823.3,643.0 824.7,654.6 827.4,661.7 829.5,655.5 831.8,668.8 834.0,660.0 836.2,649.3 838.0,654.6 840.7,667.0 843.0,655.5 845.0,660.8 847.2,662.6 849.5,675.0 852.2,663.5 854.3,664.4 855.7,668.8 857.5,656.4 859.6,644.9 861.0,660.0 862.8,654.6 865.5,661.7 868.5,667.0 871.7,667.0 874.4,661.7 876.7,650.0 878.4,647.5 880.6,636.9 882.3,621.0 884.0,628.0 885.5,635.0 887.3,606.7 889.0,602.3 891.2,612.0 893.9,613.0 896.5,598.8 898.7,617.4 901.0,626.2 903.3,624.5 905.0,613.8 906.8,624.5 908.6,604.0 910.7,597.0 913.4,593.4 915.7,582.8 917.4,595.2 919.6,604.0 922.2,601.4 924.0,604.0 926.3,611.2 928.4,603.2 930.6,601.4 932.9,592.6 935.5,588.0 937.7,592.6 939.4,581.0 941.2,574.0 943.2,613.8 944.8,596.0 947.0,588.0 949.4,591.7 951.5,585.5 953.3,576.6 955.0,563.0 956.2,560.5 958.0,554.0 960.0,541.8 961.9,546.3 963.7,556.0 965.5,545.4 967.8,531.0 970.4,511.7 972.2,488.7 974.0,472.7 975.7,471.0 976.6,454.0 978.4,467.4 980.2,468.3 982.0,447.9 983.2,447.9 984.0,417.7 985.0,396.0 986.2,335.0 987.4,291.0 988.6,244.5 989.8,291.0 991.0,240.0 992.2,158.0 993.4,109.9 L993.5,815 L21.3,815 Z" fill="url(#ag)"/>
<polyline points="21.3,695.0 23.0,703.0 28.4,700.5 31.0,702.0 32.8,690.7 35.5,681.8 38.1,669.4 40.4,656.0 41.7,664.0 44.0,637.5 46.1,636.6 47.5,632.0 48.8,618.0 51.4,616.0 53.5,603.8 55.0,619.8 57.1,630.4 59.4,618.0 62.0,593.0 64.7,570.0 66.5,565.7 68.3,557.7 70.9,532.0 72.5,498.0 74.1,465.4 75.4,514.0 76.2,549.6 76.6,570.0 78.0,572.0 78.9,550.6 80.7,561.0 82.4,566.6 85.1,581.7 86.9,550.6 88.7,532.0 90.4,546.0 93.1,516.0 95.7,509.0 97.5,524.8 98.4,545.0 98.9,575.5 99.6,610.0 101.0,609.0 102.5,598.5 104.6,598.5 105.9,571.0 107.8,577.0 109.6,600.0 111.3,591.4 113.5,611.0 116.1,627.0 118.4,611.0 121.5,582.5 124.1,582.5 125.9,570.0 128.0,580.8 130.3,591.4 133.0,594.0 135.6,599.4 138.3,611.0 141.0,621.6 144.5,622.4 146.3,636.6 148.9,632.0 152.5,630.4 155.7,625.0 157.8,598.5 160.5,576.3 164.0,575.5 166.7,593.0 168.4,599.4 170.2,589.6 172.3,580.0 174.6,588.0 177.3,609.0 179.4,611.0 181.7,597.6 184.4,596.7 186.2,609.0 188.3,622.4 190.0,619.5 192.7,620.4 195.0,630.0 196.7,644.3 197.4,665.6 199.2,656.7 201.0,660.3 202.4,669.0 205.0,671.8 206.8,674.5 208.6,690.4 210.4,698.4 212.2,692.2 215.7,686.9 217.5,670.9 218.7,660.3 221.0,659.4 222.4,674.5 225.5,676.2 227.2,678.0 229.4,669.0 231.7,678.0 234.3,687.8 237.0,692.2 239.6,692.2 241.4,687.8 244.0,687.8 246.4,694.9 248.2,683.3 249.9,675.4 252.0,678.9 253.8,679.8 256.0,690.4 259.0,691.3 261.8,693.0 264.5,695.7 266.6,698.4 268.9,692.2 270.7,681.6 273.3,678.0 276.0,682.4 278.7,688.7 280.8,693.0 283.0,694.9 285.7,704.6 288.4,712.6 291.0,710.0 293.7,720.6 295.5,717.0 297.3,723.2 299.6,713.5 301.7,720.6 304.4,720.6 307.0,702.8 309.7,711.7 312.3,715.2 315.5,723.2 318.0,711.7 323.0,722.3 326.5,708.2 330.0,719.7 332.7,721.5 335.4,724.0 338.6,731.2 342.5,725.9 345.0,731.2 348.7,726.8 352.8,719.7 354.9,722.3 357.5,733.0 361.0,735.6 365.5,736.5 370.0,733.0 372.6,722.3 375.3,727.7 378.0,722.3 381.0,725.9 382.7,724.0 384.0,713.5 386.2,707.3 388.0,710.0 390.6,717.9 393.3,710.0 395.6,706.4 397.7,690.4 399.5,687.8 402.2,686.9 404.8,694.0 407.0,698.4 409.3,695.7 411.6,691.3 413.7,708.2 416.0,707.3 418.1,702.0 420.4,713.5 422.6,715.2 424.3,713.5 427.0,722.3 429.6,716.0 433.2,710.0 437.0,702.0 440.3,711.7 443.0,702.8 446.0,701.0 448.3,710.0 450.0,717.0 454.0,708.2 456.6,713.5 458.5,715.2 460.7,725.0 462.4,717.0 464.8,716.0 466.5,711.7 468.7,710.8 470.8,704.6 473.0,710.0 475.7,713.5 477.5,711.7 479.6,713.5 482.5,710.0 484.6,716.0 486.7,721.5 489.0,715.2 491.3,710.8 495.2,710.0 497.4,717.0 501.5,717.0 505.9,716.0 509.0,711.7 511.2,716.0 514.8,716.0 518.3,715.2 521.8,719.7 524.5,723.2 527.2,725.0 529.8,730.3 533.4,734.8 536.9,731.2 542.2,731.2 544.0,733.9 546.7,733.9 550.2,731.2 552.9,724.0 554.6,722.3 557.3,722.3 559.4,720.6 561.7,721.5 563.5,725.0 566.2,725.9 569.7,726.8 573.5,728.5 576.2,733.0 578.9,730.3 582.0,725.9 584.2,727.7 586.8,718.8 589.0,717.0 591.6,710.0 594.3,702.8 596.2,706.4 599.3,707.3 601.9,708.2 604.2,704.6 606.3,712.6 609.0,711.7 611.0,715.2 614.0,708.2 616.0,703.7 619.6,703.7 622.3,706.4 624.0,701.0 625.9,713.5 627.6,734.8 629.0,748.9 630.3,734.8 632.4,720.6 635.2,727.7 637.7,715.2 640.0,702.0 642.3,707.3 644.5,706.4 647.0,700.0 648.9,688.7 650.7,662.0 651.9,640.8 653.3,630.0 654.8,637.2 656.5,629.3 657.8,635.5 659.5,637.2 661.3,665.6 663.0,651.4 664.9,655.0 666.6,658.5 668.4,645.2 670.2,658.5 672.0,668.3 674.6,647.9 677.3,640.0 679.6,651.4 681.7,640.8 683.5,633.7 686.0,632.0 688.4,647.0 690.6,641.7 693.2,650.5 695.9,641.7 698.0,642.6 700.3,631.0 703.0,626.6 705.6,625.7 706.9,642.6 709.2,639.0 711.8,646.0 714.0,647.0 717.2,664.7 719.8,652.3 722.0,671.0 725.0,668.3 727.8,656.7 729.6,655.9 731.7,647.0 734.0,662.0 736.3,671.8 739.3,663.8 741.6,670.0 743.4,655.9 745.5,671.0 747.3,660.3 749.4,655.0 751.7,641.7 754.4,648.8 756.2,652.3 757.9,644.3 760.0,659.0 760.9,674.0 762.7,679.4 764.4,672.3 767.0,674.0 769.8,684.8 772.0,695.4 774.2,699.8 776.0,687.4 777.7,683.9 779.9,697.0 781.6,705.0 783.4,697.0 785.7,697.0 787.5,687.4 789.3,704.0 791.0,695.4 792.8,680.3 794.6,675.9 796.3,667.0 798.0,661.7 800.8,658.0 804.0,655.5 806.5,660.8 808.8,671.5 811.4,678.5 813.5,684.8 815.9,670.6 817.6,660.0 819.4,649.3 821.2,646.6 823.3,643.0 824.7,654.6 827.4,661.7 829.5,655.5 831.8,668.8 834.0,660.0 836.2,649.3 838.0,654.6 840.7,667.0 843.0,655.5 845.0,660.8 847.2,662.6 849.5,675.0 852.2,663.5 854.3,664.4 855.7,668.8 857.5,656.4 859.6,644.9 861.0,660.0 862.8,654.6 865.5,661.7 868.5,667.0 871.7,667.0 874.4,661.7 876.7,650.0 878.4,647.5 880.6,636.9 882.3,621.0 884.0,628.0 885.5,635.0 887.3,606.7 889.0,602.3 891.2,612.0 893.9,613.0 896.5,598.8 898.7,617.4 901.0,626.2 903.3,624.5 905.0,613.8 906.8,624.5 908.6,604.0 910.7,597.0 913.4,593.4 915.7,582.8 917.4,595.2 919.6,604.0 922.2,601.4 924.0,604.0 926.3,611.2 928.4,603.2 930.6,601.4 932.9,592.6 935.5,588.0 937.7,592.6 939.4,581.0 941.2,574.0 943.2,613.8 944.8,596.0 947.0,588.0 949.4,591.7 951.5,585.5 953.3,576.6 955.0,563.0 956.2,560.5 958.0,554.0 960.0,541.8 961.9,546.3 963.7,556.0 965.5,545.4 967.8,531.0 970.4,511.7 972.2,488.7 974.0,472.7 975.7,471.0 976.6,454.0 978.4,467.4 980.2,468.3 982.0,447.9 983.2,447.9 984.0,417.7 985.0,396.0 986.2,335.0 987.4,291.0 988.6,244.5 989.8,291.0 991.0,240.0 992.2,158.0 993.4,109.9" fill="none" stroke="#fff" stroke-width="2.2" stroke-linejoin="round" stroke-linecap="round"/>
<circle cx="75.5" cy="275.4" r="19.3" fill="rgba(76,175,80,0.25)" stroke="#4caf50" stroke-width="1"/>
<circle cx="993.5" cy="181.4" r="19.3" fill="rgba(76,175,80,0.25)" stroke="#4caf50" stroke-width="1"/>
<rect x="944" y="58" width="153" height="14" fill="#53442a"/>
<rect x="953" y="64" width="145" height="2" fill="#f6b922"/>
<rect x="21" y="878.9" width="1077" height="1.25" fill="#78909c"/>
<rect x="116.0" y="879" width="1" height="9.4" fill="#78909c"/><rect x="240.7" y="879" width="1" height="9.4" fill="#78909c"/><rect x="365.4" y="879" width="1" height="9.4" fill="#78909c"/><rect x="490.1" y="879" width="1" height="9.4" fill="#78909c"/><rect x="614.8" y="879" width="1" height="9.4" fill="#78909c"/><rect x="739.5" y="879" width="1" height="9.4" fill="#78909c"/><rect x="864.2" y="879" width="1" height="9.4" fill="#78909c"/><rect x="988.9" y="879" width="1" height="9.4" fill="#78909c"/>
</svg>
<svg class="logo" width="60" height="40" viewBox="10 15 60 40" fill="none" stroke="#2f9a80" stroke-width="0.95">
<path d="M26.9 29.5 L29.9 36.9 L26.9 44.5"/>
<g fill="#1c1b29">
<circle cx="26.9" cy="29.5" r="1.7"/><circle cx="38.2" cy="27.3" r="2.05"/><circle cx="33.9" cy="31.9" r="1.65"/>
<circle cx="22.3" cy="36.5" r="2.05"/><circle cx="29.9" cy="36.9" r="1.6"/><circle cx="35.3" cy="38.9" r="1.9"/>
<circle cx="42.2" cy="41.9" r="2.05"/><circle cx="26.9" cy="44.5" r="2.05"/>
</g></svg>
<svg class="ingot" width="110" height="70" viewBox="0 0 1128 718" fill="none" stroke="#fff" stroke-width="30" stroke-linejoin="round" stroke-linecap="round">
<path d="M340 265 L540 265 L575 400 L305 400 Z"/>
<path d="M340 262 L600 135 L795 135 L835 292"/>
<path d="M590 245 L730 180"/>
<path d="M470 440 L660 440 L700 592 L430 592 Z"/>
<path d="M590 402 L840 296 L930 305 L965 470 L700 592"/>
<path d="M720 410 L860 345"/>
<path d="M180 430 L375 430 L412 592 L140 592 Z"/>
<path d="M180 428 L300 368"/>
</svg>
<div class="price"></div>
<span style="position:absolute;left:246.41px;top:41.60px;white-space:nowrap;will-change:transform;transform-origin:0 0;transform:scaleX(0.8174);font-weight:700;font-size:60px;line-height:70px;color:#fff;-webkit-text-stroke:1.4px #fff;text-shadow:1.5px 0 #fff,-1.5px 0 #fff;">S</span>
<span style="position:absolute;left:286.75px;top:40.60px;white-space:nowrap;will-change:transform;transform-origin:0 0;transform:scaleX(1.0002);font-weight:700;font-size:60px;line-height:70px;color:#fff;-webkit-text-stroke:1.4px #fff;text-shadow:1.5px 0 #fff,-1.5px 0 #fff;">I</span>
<span style="position:absolute;left:312.45px;top:40.60px;white-space:nowrap;will-change:transform;transform-origin:0 0;transform:scaleX(0.7774);font-weight:700;font-size:60px;line-height:70px;color:#fff;-webkit-text-stroke:1.4px #fff;text-shadow:1.5px 0 #fff,-1.5px 0 #fff;">L</span>
<span style="position:absolute;left:340.57px;top:40.60px;white-space:nowrap;will-change:transform;transform-origin:0 0;transform:scaleX(0.9539);font-weight:700;font-size:60px;line-height:70px;color:#fff;-webkit-text-stroke:1.4px #fff;text-shadow:1.5px 0 #fff,-1.5px 0 #fff;">V</span>
<span style="position:absolute;left:384.39px;top:40.60px;white-space:nowrap;will-change:transform;transform-origin:0 0;transform:scaleX(0.7147);font-weight:700;font-size:60px;line-height:70px;color:#fff;-webkit-text-stroke:1.4px #fff;text-shadow:1.5px 0 #fff,-1.5px 0 #fff;">E</span>
<span style="position:absolute;left:422.52px;top:40.60px;white-space:nowrap;will-change:transform;transform-origin:0 0;transform:scaleX(0.7923);font-weight:700;font-size:60px;line-height:70px;color:#fff;-webkit-text-stroke:1.4px #fff;text-shadow:1.5px 0 #fff,-1.5px 0 #fff;">R</span>
<span style="position:absolute;left:479.71px;top:40.60px;white-space:nowrap;will-change:transform;transform-origin:0 0;transform:scaleX(0.7981);font-weight:700;font-size:60px;line-height:70px;color:#fff;-webkit-text-stroke:1.4px #fff;text-shadow:1.5px 0 #fff,-1.5px 0 #fff;">F</span>
<span style="position:absolute;left:517.17px;top:40.60px;white-space:nowrap;will-change:transform;transform-origin:0 0;transform:scaleX(0.8556);font-weight:700;font-size:60px;line-height:70px;color:#fff;-webkit-text-stroke:1.4px #fff;text-shadow:1.5px 0 #fff,-1.5px 0 #fff;">U</span>
<span style="position:absolute;left:562.20px;top:40.60px;white-space:nowrap;will-change:transform;transform-origin:0 0;transform:scaleX(0.9212);font-weight:700;font-size:60px;line-height:70px;color:#fff;-webkit-text-stroke:1.4px #fff;text-shadow:1.5px 0 #fff,-1.5px 0 #fff;">T</span>
<span style="position:absolute;left:604.27px;top:40.60px;white-space:nowrap;will-change:transform;transform-origin:0 0;transform:scaleX(0.8556);font-weight:700;font-size:60px;line-height:70px;color:#fff;-webkit-text-stroke:1.4px #fff;text-shadow:1.5px 0 #fff,-1.5px 0 #fff;">U</span>
<span style="position:absolute;left:649.51px;top:40.60px;white-space:nowrap;will-change:transform;transform-origin:0 0;transform:scaleX(0.8413);font-weight:700;font-size:60px;line-height:70px;color:#fff;-webkit-text-stroke:1.4px #fff;text-shadow:1.5px 0 #fff,-1.5px 0 #fff;">R</span>
<span style="position:absolute;left:695.07px;top:40.60px;white-space:nowrap;will-change:transform;transform-origin:0 0;transform:scaleX(0.7256);font-weight:700;font-size:60px;line-height:70px;color:#fff;-webkit-text-stroke:1.4px #fff;text-shadow:1.5px 0 #fff,-1.5px 0 #fff;">E</span>
<span style="position:absolute;left:730.74px;top:41.60px;white-space:nowrap;will-change:transform;transform-origin:0 0;transform:scaleX(0.8884);font-weight:700;font-size:60px;line-height:70px;color:#fff;-webkit-text-stroke:1.4px #fff;text-shadow:1.5px 0 #fff,-1.5px 0 #fff;">S</span>
<span style="position:absolute;left:413.43px;top:113.00px;white-space:nowrap;will-change:transform;transform-origin:0 0;transform:scaleX(1.1217);font-size:27.5px;line-height:32px;color:#fff;font-weight:700;">SI</span>
<span style="position:absolute;left:450.29px;top:113.00px;white-space:nowrap;will-change:transform;transform-origin:0 0;transform:scaleX(0.9202);font-size:27.5px;line-height:32px;color:#fff;">WEEKLY</span>
<span style="position:absolute;left:564.02px;top:113.00px;white-space:nowrap;will-change:transform;transform-origin:0 0;transform:scaleX(0.9780);font-size:27.5px;line-height:32px;color:#fff;">CHART</span>
<span style="position:absolute;left:49.30px;top:21.30px;white-space:nowrap;will-change:transform;transform-origin:0 0;transform:scaleX(1.0875);font-size:23.0px;line-height:28px;font-weight:700;color:#fff;">Trend</span>
<span style="position:absolute;left:116.61px;top:21.30px;white-space:nowrap;will-change:transform;transform-origin:0 0;transform:scaleX(1.1177);font-size:23.0px;line-height:28px;color:#e4e4e8;">Spider</span>
<span style="position:absolute;left:104.79px;top:263.00px;white-space:nowrap;will-change:transform;transform-origin:0 0;transform:scaleX(1.0342);font-size:18px;line-height:22px;color:#4caf50;">+84%</span>
<span style="position:absolute;left:158.18px;top:263.00px;white-space:nowrap;will-change:transform;transform-origin:0 0;transform:scaleX(1.0801);font-size:18px;line-height:22px;color:#4caf50;">Above</span>
<span style="position:absolute;left:218.44px;top:263.00px;white-space:nowrap;will-change:transform;transform-origin:0 0;transform:scaleX(1.1042);font-size:18px;line-height:22px;color:#4caf50;">200-Week</span>
<span style="position:absolute;left:313.57px;top:263.00px;white-space:nowrap;will-change:transform;transform-origin:0 0;transform:scaleX(1.0142);font-size:18px;line-height:22px;color:#4caf50;">SMA</span>
<span style="position:absolute;left:698.88px;top:170.90px;white-space:nowrap;will-change:transform;transform-origin:0 0;transform:scaleX(1.0461);font-size:18px;line-height:22px;color:#4caf50;">+202%</span>
<span style="position:absolute;left:764.09px;top:170.90px;white-space:nowrap;will-change:transform;transform-origin:0 0;transform:scaleX(1.0720);font-size:18px;line-height:22px;color:#4caf50;">Above</span>
<span style="position:absolute;left:824.25px;top:170.90px;white-space:nowrap;will-change:transform;transform-origin:0 0;transform:scaleX(1.0992);font-size:18px;line-height:22px;color:#4caf50;">200-Week</span>
<span style="position:absolute;left:919.18px;top:170.90px;white-space:nowrap;will-change:transform;transform-origin:0 0;transform:scaleX(1.0060);font-size:18px;line-height:22px;color:#4caf50;">SMA</span>
<span style="position:absolute;left:1064.44px;top:128.90px;white-space:nowrap;will-change:transform;transform-origin:0 0;transform:scaleX(1.0976);font-size:11.5px;line-height:16px;color:#78909c;">90.000</span>
<span style="position:absolute;left:1064.53px;top:206.90px;white-space:nowrap;will-change:transform;transform-origin:0 0;transform:scaleX(1.0950);font-size:11.5px;line-height:16px;color:#78909c;">80.000</span>
<span style="position:absolute;left:1064.26px;top:284.90px;white-space:nowrap;will-change:transform;transform-origin:0 0;transform:scaleX(1.1028);font-size:11.5px;line-height:16px;color:#78909c;">70.000</span>
<span style="position:absolute;left:1064.53px;top:362.90px;white-space:nowrap;will-change:transform;transform-origin:0 0;transform:scaleX(1.0950);font-size:11.5px;line-height:16px;color:#78909c;">60.000</span>
<span style="position:absolute;left:1064.50px;top:440.90px;white-space:nowrap;will-change:transform;transform-origin:0 0;transform:scaleX(1.0959);font-size:11.5px;line-height:16px;color:#78909c;">50.000</span>
<span style="position:absolute;left:1064.41px;top:518.90px;white-space:nowrap;will-change:transform;transform-origin:0 0;transform:scaleX(1.0987);font-size:11.5px;line-height:16px;color:#78909c;">40.000</span>
<span style="position:absolute;left:1064.39px;top:596.90px;white-space:nowrap;will-change:transform;transform-origin:0 0;transform:scaleX(1.0991);font-size:11.5px;line-height:16px;color:#78909c;">30.000</span>
<span style="position:absolute;left:1064.36px;top:674.90px;white-space:nowrap;will-change:transform;transform-origin:0 0;transform:scaleX(1.0999);font-size:11.5px;line-height:16px;color:#78909c;">20.000</span>
<span style="position:absolute;left:1064.24px;top:752.90px;white-space:nowrap;will-change:transform;transform-origin:0 0;transform:scaleX(1.1033);font-size:11.5px;line-height:16px;color:#78909c;">10.000</span>
<span style="position:absolute;left:1071.36px;top:830.90px;white-space:nowrap;will-change:transform;transform-origin:0 0;transform:scaleX(1.0956);font-size:11.5px;line-height:16px;color:#78909c;">0.000</span>
<span style="position:absolute;left:102.85px;top:886.30px;white-space:nowrap;will-change:transform;transform-origin:0 0;transform:scaleX(1.1282);font-size:11.2px;line-height:16px;color:#78909c;">2012</span>
<span style="position:absolute;left:227.55px;top:886.30px;white-space:nowrap;will-change:transform;transform-origin:0 0;transform:scaleX(1.1315);font-size:11.2px;line-height:16px;color:#78909c;">2014</span>
<span style="position:absolute;left:352.25px;top:886.30px;white-space:nowrap;will-change:transform;transform-origin:0 0;transform:scaleX(1.1248);font-size:11.2px;line-height:16px;color:#78909c;">2016</span>
<span style="position:absolute;left:476.95px;top:886.30px;white-space:nowrap;will-change:transform;transform-origin:0 0;transform:scaleX(1.1213);font-size:11.2px;line-height:16px;color:#78909c;">2018</span>
<span style="position:absolute;left:601.66px;top:886.30px;white-space:nowrap;will-change:transform;transform-origin:0 0;transform:scaleX(1.1161);font-size:11.2px;line-height:16px;color:#78909c;">2020</span>
<span style="position:absolute;left:726.35px;top:886.30px;white-space:nowrap;will-change:transform;transform-origin:0 0;transform:scaleX(1.1282);font-size:11.2px;line-height:16px;color:#78909c;">2022</span>
<span style="position:absolute;left:851.05px;top:886.30px;white-space:nowrap;will-change:transform;transform-origin:0 0;transform:scaleX(1.1315);font-size:11.2px;line-height:16px;color:#78909c;">2024</span>
<span style="position:absolute;left:975.75px;top:886.30px;white-space:nowrap;will-change:transform;transform-origin:0 0;transform:scaleX(1.1248);font-size:11.2px;line-height:16px;color:#78909c;">2026</span>
<span style="position:absolute;left:1063.75px;top:101.00px;white-space:nowrap;will-change:transform;transform-origin:0 0;transform:scaleX(1.0917);font-size:11.5px;line-height:16px;color:#000;">94.280</span>
<span style="position:absolute;left:953.26px;top:45.00px;white-space:nowrap;will-change:transform;transform-origin:0 0;transform:scaleX(1.0615);font-size:11.8px;line-height:16px;font-weight:700;color:#f6b922;">100.000</span>
<span style="position:absolute;left:1008.41px;top:866.80px;white-space:nowrap;will-change:transform;transform-origin:0 0;transform:scaleX(1.0044);font-size:10px;line-height:14px;color:#78909c;">Your local time zone</span>
<span style="position:absolute;left:18.73px;top:910.50px;white-space:nowrap;will-change:transform;transform-origin:0 0;transform:scaleX(1.0288);font-size:10px;line-height:14px;color:#fff;text-shadow:0 0 1px #fff,0 1px 1px #000;">©2026 TrendSpider</span>
</body></html>
